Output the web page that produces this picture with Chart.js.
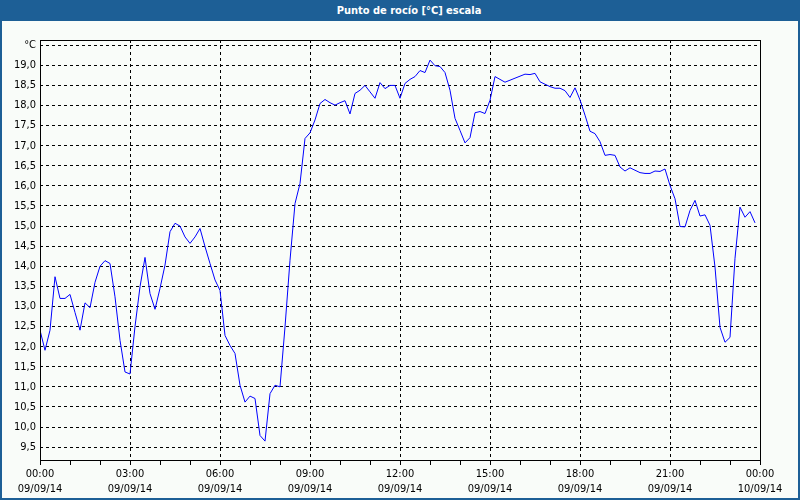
<!DOCTYPE html>
<html>
<head>
<meta charset="utf-8">
<script src="https://cdn.jsdelivr.net/npm/chart.js@4"></script>
<style>
  html, body { margin: 0; padding: 0; }
  body { width: 800px; height: 500px; background: #f9fcf9; position: relative; overflow: hidden; }
  #titlebar {
    position: absolute; left: 0; top: 0; width: 800px; height: 21px;
    background: #1d5f96; color: #fff;
    font: bold 11px "DejaVu Sans Condensed", "Liberation Sans", sans-serif;
    line-height: 21px; text-align: center; box-sizing: border-box; padding-left: 18px;
  }
  #frame {
    position: absolute; left: 0; top: 0; width: 800px; height: 500px;
    box-sizing: border-box; border: 2px solid #1d5f96; border-top: none; pointer-events: none;
  }
  #wrap { position: absolute; left: 0; top: 0; width: 800px; height: 500px; }
</style>
</head>
<body>
<div id="wrap"><canvas id="dewChart" width="800" height="500"></canvas></div>
<div id="titlebar">Punto de rocío [°C] escala</div>
<div id="frame"></div>
<script>
// Punto de rocío, one reading every 10 minutes from 09/09/14 00:00
const dewPoint = [
    12.41, 11.91, 12.41, 13.74, 13.20, 13.20, 13.30, 12.85, 12.41, 13.09, 12.97, 13.60,
    14.00, 14.14, 14.07, 13.24, 12.16, 11.37, 11.32, 12.50, 13.49, 14.22, 13.32, 12.93,
    13.45, 14.03, 14.86, 15.07, 15.00, 14.73, 14.57, 14.73, 14.94, 14.49, 14.07, 13.66,
    13.40, 12.28, 12.03, 11.83, 11.04, 10.62, 10.77, 10.71, 9.79, 9.65, 10.83, 11.04,
    11.00, 12.49, 14.15, 15.56, 16.06, 17.18, 17.32, 17.64, 18.05, 18.15, 18.07, 18.01,
    18.07, 18.12, 17.79, 18.30, 18.38, 18.50, 18.34, 18.18, 18.57, 18.42, 18.50, 18.50,
    18.18, 18.55, 18.65, 18.72, 18.87, 18.82, 19.13, 18.99, 18.97, 18.82, 18.38, 17.68,
    17.38, 17.07, 17.20, 17.82, 17.85, 17.80, 18.13, 18.72, 18.65, 18.58, 18.63, 18.68,
    18.73, 18.78, 18.77, 18.80, 18.59, 18.53, 18.47, 18.43, 18.43, 18.37, 18.20, 18.44,
    18.14, 17.76, 17.36, 17.30, 17.10, 16.76, 16.78, 16.76, 16.47, 16.37, 16.45, 16.39,
    16.33, 16.31, 16.31, 16.37, 16.36, 16.42, 16.01, 15.68, 14.99, 14.98, 15.39, 15.64,
    15.25, 15.28, 15.02, 13.98, 12.48, 12.11, 12.23, 14.20, 15.47, 15.22, 15.36, 15.08
];
const stepMinutes = 10;

// x axis: minutes since 00:00, labelled every 3 hours, small tick every hour
const xTickValues = [0, 180, 360, 540, 720, 900, 1080, 1260, 1440];
const xTickTimes = ['00:00', '03:00', '06:00', '09:00', '12:00', '15:00', '18:00', '21:00', '00:00'];
const xTickDates = ['09/09/14', '09/09/14', '09/09/14', '09/09/14', '09/09/14', '09/09/14', '09/09/14', '09/09/14', '10/09/14'];
const xMinorStep = 60;

// y axis
const yTickValues = [9.5, 10, 10.5, 11, 11.5, 12, 12.5, 13, 13.5, 14, 14.5, 15, 15.5, 16, 16.5, 17, 17.5, 18, 18.5, 19, 19.5];
const yTickLabels = ['9,5', '10,0', '10,5', '11,0', '11,5', '12,0', '12,5', '13,0', '13,5', '14,0', '14,5',
    '15,0', '15,5', '16,0', '16,5', '17,0', '17,5', '18,0', '18,5', '19,0', '°C'];

const tickFont = { family: '"DejaVu Sans Condensed", "Liberation Sans", sans-serif', size: 11 };

// frame round the plot area
const plotFrame = {
    id: 'plotFrame',
    afterDatasetsDraw(chart) {
        const a = chart.chartArea;
        const ctx = chart.ctx;
        ctx.save();
        ctx.strokeStyle = '#000';
        ctx.lineWidth = 1;
        ctx.strokeRect(Math.round(a.left) + 0.5, Math.round(a.top) + 0.5,
            Math.round(a.right - a.left), Math.round(a.bottom - a.top));
        ctx.restore();
    }
};

const ctx = document.getElementById('dewChart').getContext('2d');
new Chart(ctx, {
    type: 'line',
    data: {
        datasets: [{
            label: 'Punto de rocío',
            data: dewPoint.map((v, i) => ({ x: i * stepMinutes, y: v })),
            borderColor: '#0000ff',
            borderWidth: 1,
            pointRadius: 0,
            tension: 0,
            fill: false
        }]
    },
    options: {
        responsive: false,
        animation: false,
        events: [],
        layout: { padding: { top: 40, right: 40, left: 0, bottom: 0 } },
        plugins: { legend: { display: false }, tooltip: { enabled: false } },
        scales: {
            x: {
                type: 'linear',
                min: 0,
                max: 1440,
                afterBuildTicks: axis => {
                    const t = [];
                    for (let m = 0; m <= 1440; m += xMinorStep) t.push({ value: m });
                    axis.ticks = t;
                },
                afterFit: axis => { axis.height = 40; },
                grid: {
                    color: c => {
                        const v = c.tick ? c.tick.value : 0;
                        return (v % 180 === 0 && v !== 0 && v !== 1440) ? '#000' : 'rgba(0,0,0,0)';
                    },
                    tickColor: '#000',
                    tickLength: 5,
                    lineWidth: 1
                },
                border: { display: false, dash: [3, 3] },
                ticks: {
                    autoSkip: false,
                    maxRotation: 0,
                    padding: 2,
                    color: '#000',
                    font: Object.assign({ lineHeight: 1.36 }, tickFont),
                    callback: value => {
                        const k = xTickValues.indexOf(value);
                        return k < 0 ? '' : [xTickTimes[k], xTickDates[k]];
                    }
                }
            },
            y: {
                min: 9.18,
                max: 19.63,
                afterBuildTicks: axis => {
                    axis.ticks = yTickValues.map(v => ({ value: v }));
                },
                afterFit: axis => { axis.width = 40; },
                grid: {
                    color: '#000',
                    lineWidth: 1,
                    drawTicks: false
                },
                border: { display: false, dash: [3, 3] },
                ticks: {
                    padding: 4,
                    color: '#000',
                    font: tickFont,
                    callback: value => {
                        const k = yTickValues.indexOf(value);
                        return k < 0 ? '' : yTickLabels[k];
                    }
                }
            }
        }
    },
    plugins: [plotFrame]
});
</script>
</body>
</html>
